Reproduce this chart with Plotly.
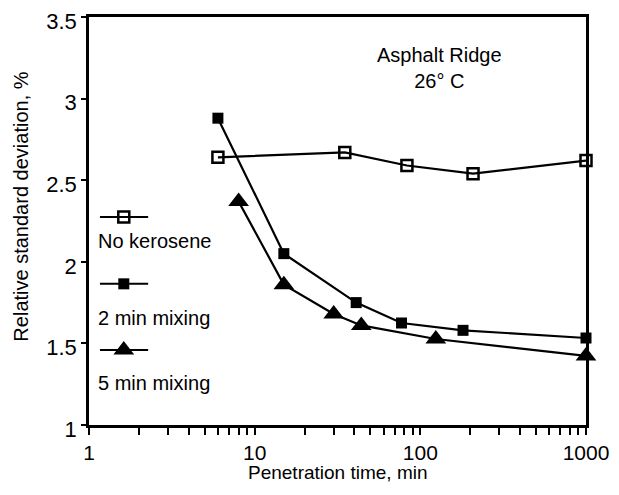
import plotly.graph_objects as go

# ---- data ----
x_none = [6, 35, 83, 208, 1000]
y_none = [2.64, 2.67, 2.59, 2.54, 2.62]

x_2min = [6, 15, 41, 77, 181, 1000]
y_2min = [2.88, 2.05, 1.75, 1.625, 1.58, 1.533]

x_5min = [8, 15, 30, 44, 124, 1000]
y_5min = [2.37, 1.86, 1.68, 1.61, 1.527, 1.423]

series_names = ["No kerosene", "2 min mixing", "5 min mixing"]

x_major = [1, 10, 100, 1000]
x_major_text = ["1", "10", "100", "1000"]
y_ticks = [1, 1.5, 2, 2.5, 3, 3.5]
y_tick_text = ["1", "1.5", "2", "2.5", "3", "3.5"]

x_title = "Penetration time, min"
y_title = "Relative standard deviation, %"

FONT = "Liberation Sans, Arial, Helvetica, sans-serif"
BLACK = "#000000"

# tick positions on the log axis (majors labelled, minors blank)
x_tickvals, x_ticktext = [], []
for d in x_major[:-1]:
    for k in range(1, 10):
        x_tickvals.append(d * k)
        x_ticktext.append(x_major_text[x_major.index(d)] if k == 1 else "")
x_tickvals.append(x_major[-1])
x_ticktext.append(x_major_text[-1])

styles = [
    dict(symbol="square-open", size=11, color=BLACK, line=dict(width=2.5, color=BLACK)),
    dict(symbol="square", size=11, color=BLACK),
    dict(symbol="triangle-up", size=18, color=BLACK),
]

fig = go.Figure()
for xs, ys, name, mk in zip([x_none, x_2min, x_5min], [y_none, y_2min, y_5min],
                            series_names, styles):
    fig.add_trace(go.Scatter(x=xs, y=ys, mode="lines+markers", name=name,
                             line=dict(color=BLACK, width=2.2), marker=mk,
                             showlegend=False, cliponaxis=False))

# hand-drawn style legend inside the plot (on an overlay axis in 0..1 units)
key_x0, key_x1, key_xm = 0.022, 0.119, 0.070
key_ys = [0.51, 0.346, 0.184]
label_ys = [0.451, 0.262, 0.103]
for name, mk, ky, ly in zip(series_names, styles, key_ys, label_ys):
    fig.add_trace(go.Scatter(x=[key_x0, key_x1], y=[ky, ky], mode="lines",
                             line=dict(color=BLACK, width=2), xaxis="x2", yaxis="y2",
                             showlegend=False, hoverinfo="skip"))
    fig.add_trace(go.Scatter(x=[key_xm], y=[ky], mode="markers", marker=mk,
                             xaxis="x2", yaxis="y2", showlegend=False, hoverinfo="skip"))
    fig.add_annotation(x=key_x0 - 0.008, y=ly, xref="x2", yref="y2", text=name,
                       showarrow=False, xanchor="left", yanchor="middle",
                       font=dict(family=FONT, size=20, color=BLACK))

fig.add_annotation(x=0.705, y=0.875, xref="paper", yref="paper",
                   text="Asphalt Ridge<br>26° C", showarrow=False,
                   xanchor="center", yanchor="middle", align="center",
                   font=dict(family=FONT, size=20, color=BLACK))

# axis titles as annotations for exact placement
fig.add_annotation(x=0.5, y=-0.116, xref="paper", yref="paper", text=x_title,
                   showarrow=False, xanchor="center", yanchor="middle",
                   font=dict(family=FONT, size=19, color=BLACK))
fig.add_annotation(x=-0.137, y=0.535, xref="paper", yref="paper", text=y_title,
                   textangle=-90, showarrow=False, xanchor="center", yanchor="middle",
                   font=dict(family=FONT, size=20, color=BLACK))

# page body has a small margin: shrink the figure so the plot box lands where
# it sits in the reference
fig.update_layout(
    width=611, height=487,
    margin=dict(l=81, r=33, t=9, b=70, autoexpand=False),
    paper_bgcolor="white", plot_bgcolor="white",
    font=dict(family=FONT, color=BLACK),
    xaxis=dict(type="log", range=[0, 3], tickvals=x_tickvals, ticktext=x_ticktext,
               ticks="outside", ticklen=7, tickwidth=2, tickcolor=BLACK,
               showline=True, linewidth=2.5, linecolor=BLACK, mirror=True,
               showgrid=False, zeroline=False, automargin=False,
               ticklabeloverflow="allow",
               tickfont=dict(family=FONT, size=21, color=BLACK)),
    yaxis=dict(range=[1, 3.5], tickvals=y_ticks, ticktext=y_tick_text,
               ticks="outside", ticklen=5, tickwidth=2, tickcolor=BLACK,
               showline=True, linewidth=2.5, linecolor=BLACK, mirror=True,
               showgrid=False, zeroline=False, automargin=False,
               ticklabeloverflow="allow", ticklabelshift=4,
               tickfont=dict(family=FONT, size=22, color=BLACK)),
    xaxis2=dict(overlaying="x", range=[0, 1], visible=False, fixedrange=True),
    yaxis2=dict(overlaying="y", range=[0, 1], visible=False, fixedrange=True),
)

fig.write_html("out.html")
